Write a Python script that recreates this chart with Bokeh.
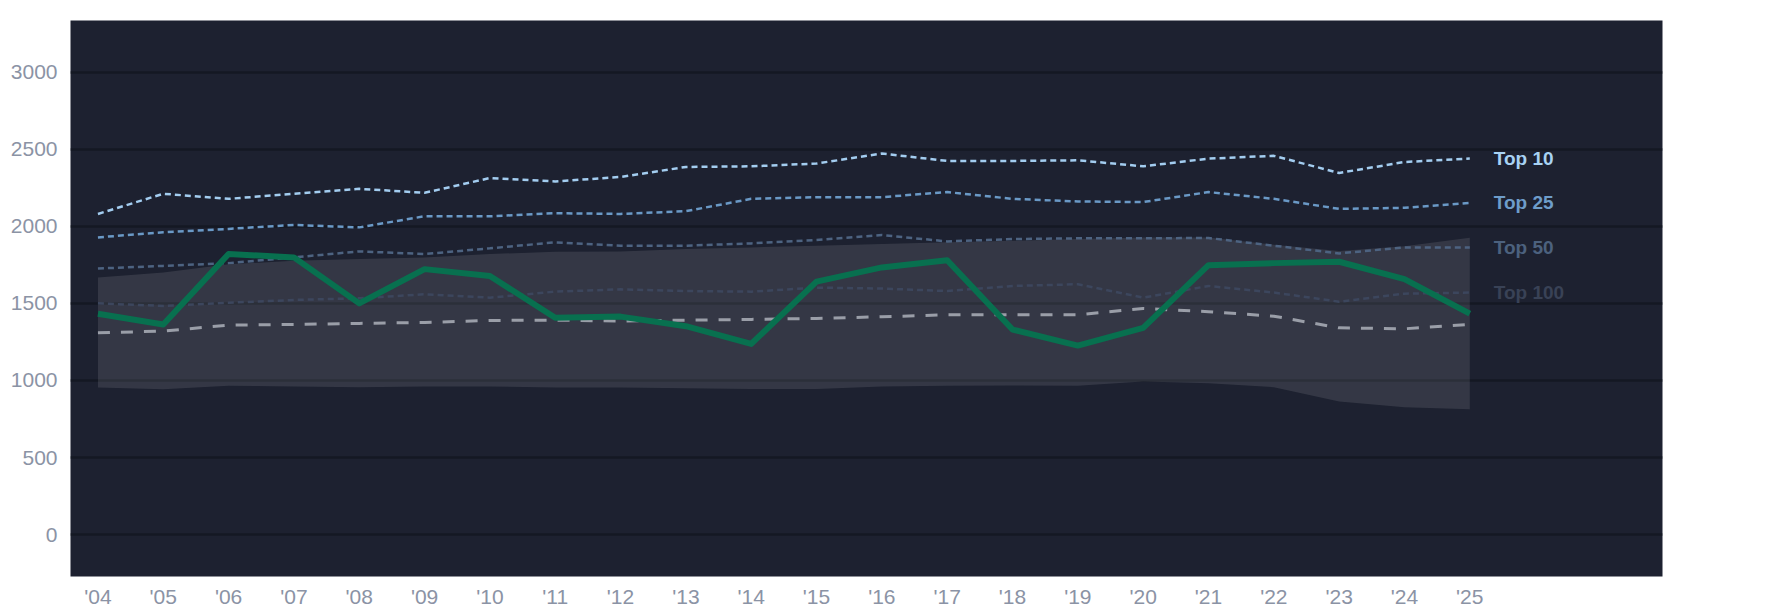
from bokeh.plotting import figure
from bokeh.models import ColumnDataSource, FixedTicker, Range1d
from bokeh.core.properties import value
from bokeh.embed import file_html
from bokeh.resources import INLINE

years = list(range(2004, 2026))
tick_labels = ["'04", "'05", "'06", "'07", "'08", "'09", "'10", "'11", "'12", "'13", "'14",
               "'15", "'16", "'17", "'18", "'19", "'20", "'21", "'22", "'23", "'24", "'25"]

top10 = [2080, 2211, 2178, 2211, 2243, 2217, 2313, 2291, 2320, 2385, 2389,
         2407, 2472, 2424, 2424, 2428, 2389, 2439, 2457, 2346, 2417, 2439]
top25 = [1928, 1961, 1983, 2009, 1993, 2065, 2065, 2085, 2080, 2098, 2178,
         2189, 2189, 2222, 2178, 2161, 2157, 2222, 2178, 2113, 2120, 2152]
top50 = [1726, 1743, 1761, 1798, 1837, 1820, 1857, 1896, 1874, 1874, 1889,
         1911, 1943, 1902, 1917, 1922, 1922, 1924, 1874, 1824, 1863, 1863]
top100 = [1500, 1483, 1504, 1522, 1533, 1559, 1537, 1576, 1591, 1580, 1576,
          1602, 1596, 1580, 1613, 1624, 1537, 1613, 1570, 1511, 1563, 1570]
median = [1309, 1320, 1359, 1363, 1370, 1376, 1389, 1391, 1385, 1391, 1396,
          1402, 1413, 1426, 1426, 1426, 1467, 1446, 1417, 1341, 1335, 1363]
player = [1433, 1363, 1820, 1798, 1500, 1722, 1678, 1406, 1414, 1352, 1237,
          1641, 1733, 1780, 1330, 1226, 1341, 1748, 1761, 1770, 1657, 1433]
band_hi = [1667, 1700, 1754, 1776, 1787, 1798, 1820, 1835, 1836, 1852, 1863,
           1874, 1885, 1896, 1906, 1917, 1928, 1928, 1880, 1840, 1870, 1925]
band_lo = [954, 943, 965, 961, 956, 961, 961, 954, 954, 950, 945,
           945, 961, 965, 967, 965, 993, 982, 956, 863, 826, 813]

y_ticks = [0, 500, 1000, 1500, 2000, 2500, 3000]
tier_names = ["Top 10", "Top 25", "Top 50", "Top 100"]
tier_series = [top10, top25, top50, top100]
tier_line_colors = ["#a3cdf0", "#6a99c6", "#4d6381", "#3c465d"]
tier_label_colors = ["#a8d2f4", "#6e9dca", "#4c617e", "#394256"]

BG = "#1d2130"
FONT = "Liberation Sans"

p = figure(frame_width=1592, frame_height=556,
           x_range=Range1d(2003.58, 2027.95), y_range=Range1d(-272, 3335),
           output_backend="svg", toolbar_location=None,
           min_border_left=70, min_border_top=20, min_border_right=100, min_border_bottom=30)
p.background_fill_color = BG
p.border_fill_color = "white"
p.outline_line_color = None

# band
p.varea(x=years, y1=band_lo, y2=band_hi, fill_color="white", fill_alpha=0.1)

# tier lines
for s, c in zip(tier_series, tier_line_colors):
    p.line(years, s, line_color=c, line_width=2.5, line_dash="6 4")

p.line(years, median, line_color="#9a9ea8", line_width=3, line_dash="12 11")
p.line(years, player, line_color="#08704f", line_width=6, line_join="round")

lab_src = ColumnDataSource(dict(x=[years[-1]] * len(tier_names),
                                y=[s[-1] for s in tier_series],
                                text=tier_names, color=tier_label_colors))
p.text(x="x", y="y", text="text", source=lab_src, text_color="color",
       x_offset=24, text_baseline="middle", text_align="left",
       text_font=value(FONT), text_font_style="bold", text_font_size="19px")

# axes
p.xaxis.ticker = FixedTicker(ticks=years)
p.xaxis.major_label_overrides = {y: t for y, t in zip(years, tick_labels)}
p.yaxis.ticker = FixedTicker(ticks=y_ticks)
for ax in (p.xaxis, p.yaxis):
    ax.axis_line_color = None
    ax.major_tick_line_color = None
    ax.minor_tick_line_color = None
    ax.major_tick_out = 0
    ax.major_tick_in = 0
    ax.major_label_text_color = "#8b93a5"
    ax.major_label_text_font = FONT
    ax.major_label_text_font_size = "21px"
p.yaxis.major_label_standoff = 13
p.xaxis.major_label_standoff = 8

p.xgrid.grid_line_color = None
p.ygrid.grid_line_color = "#141823"
p.ygrid.grid_line_width = 2.5

open("out.html", "w").write(file_html(p, INLINE))
